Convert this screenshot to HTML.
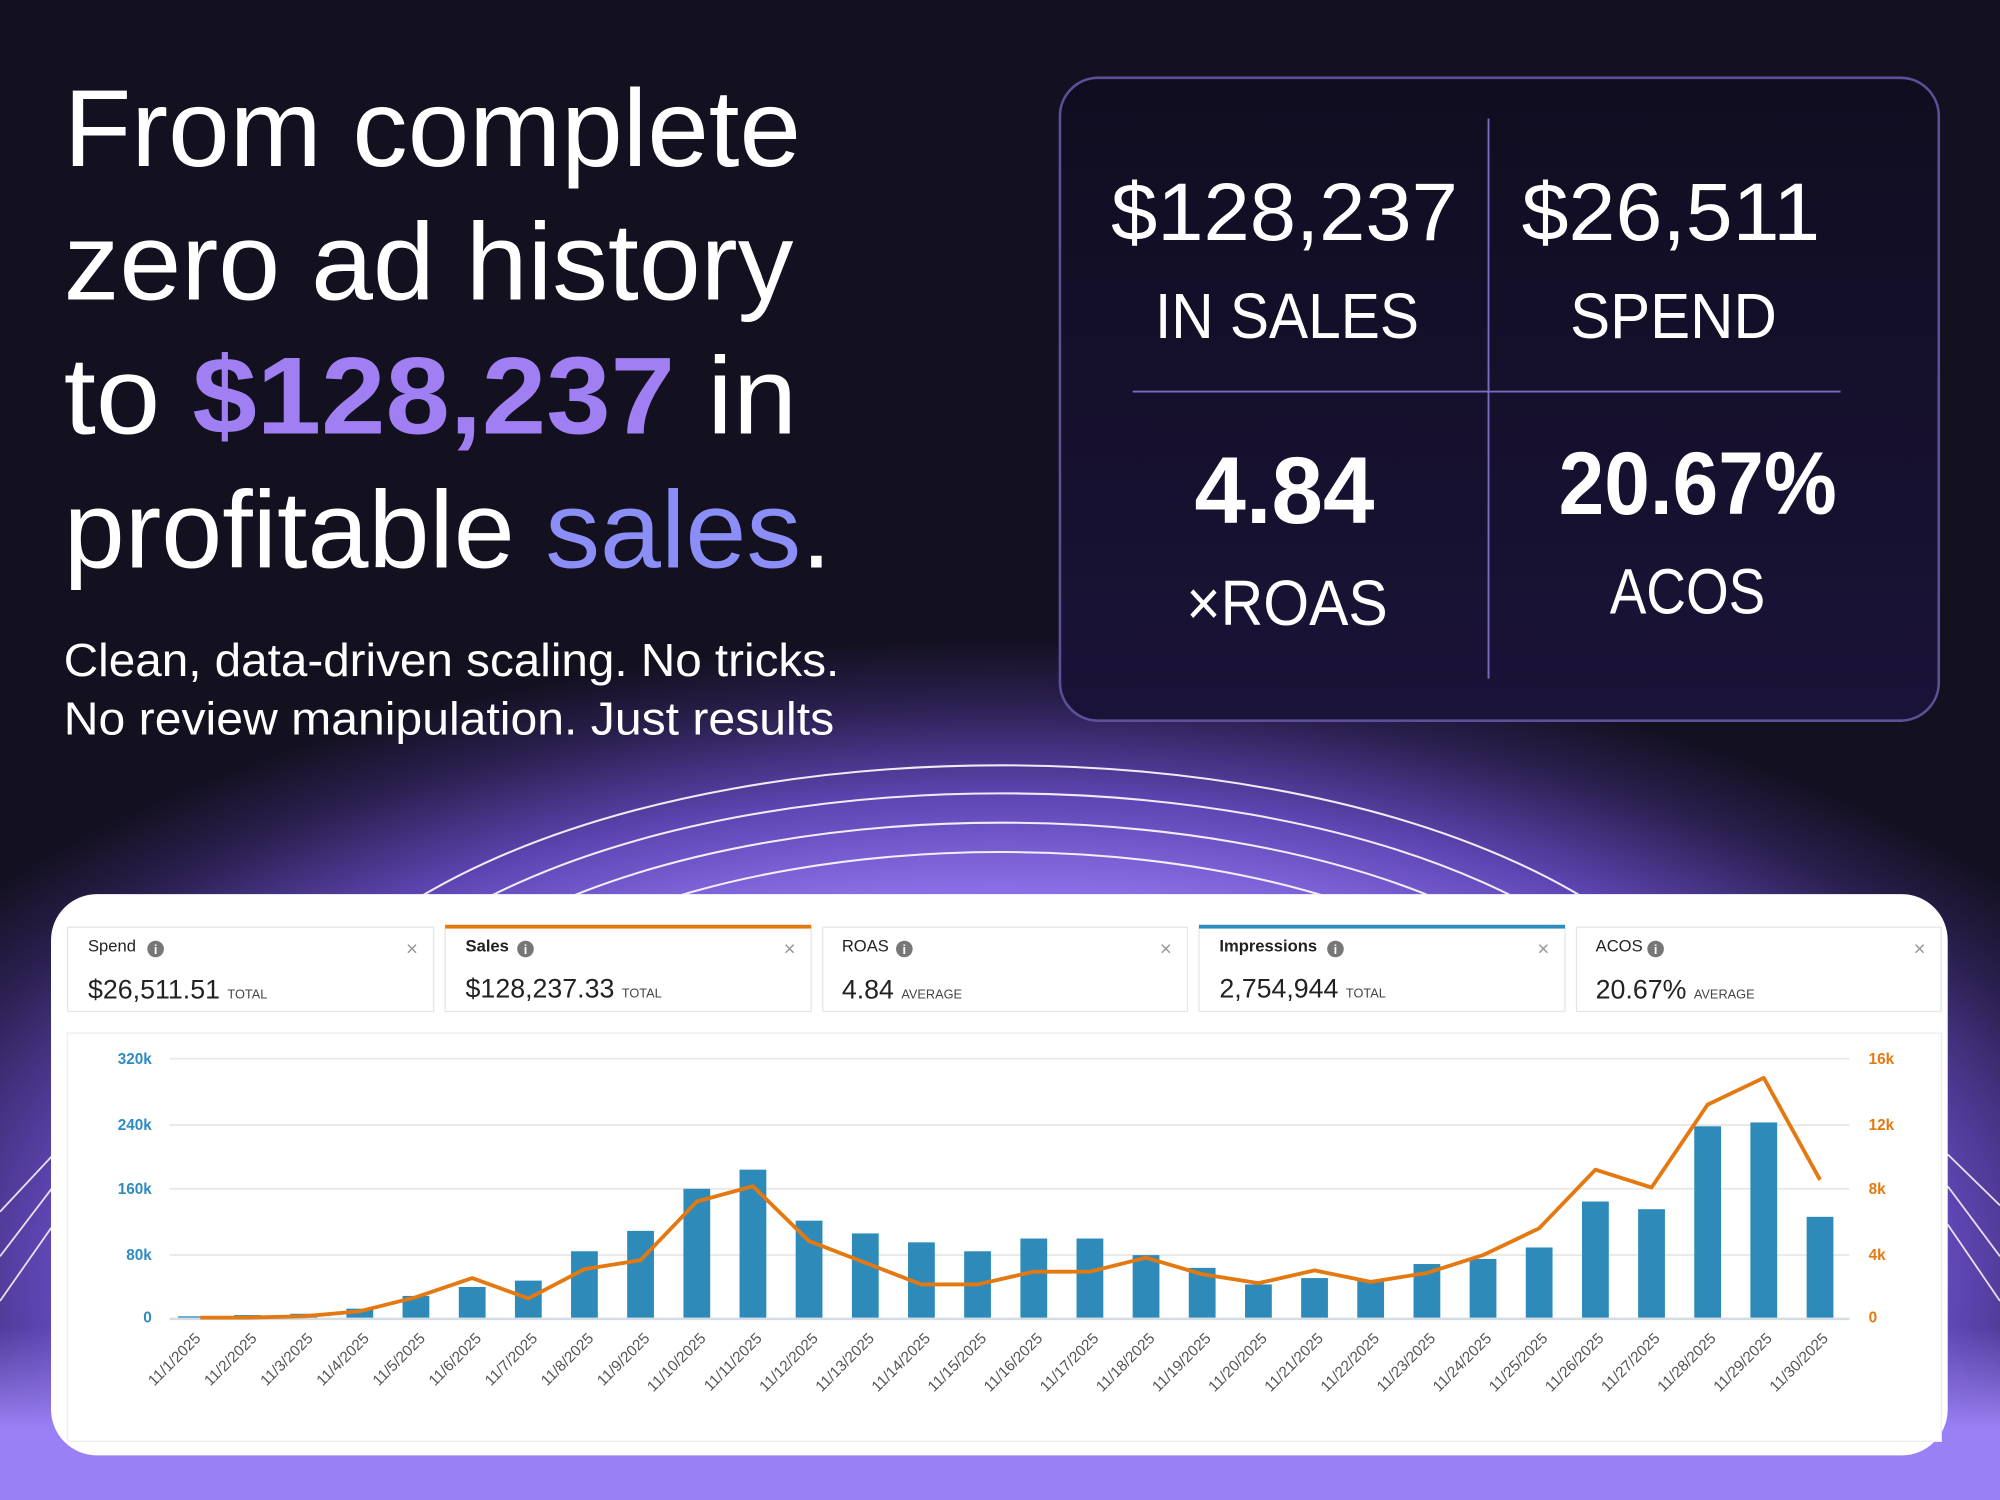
<!DOCTYPE html>
<html><head><meta charset="utf-8"><style>
html,body{margin:0;padding:0;background:#12101e;}
svg{display:block}
</style></head><body>
<svg width="2000" height="1500" viewBox="0 0 1568 1176" xmlns="http://www.w3.org/2000/svg" font-family="Liberation Sans, sans-serif">
<defs>
<radialGradient id="glow" cx="785" cy="1000" r="1000" gradientUnits="userSpaceOnUse" gradientTransform="translate(785 1000) scale(1 0.5) translate(-785 -1000)">
<stop offset="0" stop-color="#a085fb"/>
<stop offset="0.55" stop-color="#9a7ef8"/>
<stop offset="0.75" stop-color="#5e46b4"/>
<stop offset="0.9" stop-color="#2a1f4e"/>
<stop offset="1" stop-color="#13101f"/>
</radialGradient>
<linearGradient id="bot" x1="0" y1="1040" x2="0" y2="1120" gradientUnits="userSpaceOnUse">
<stop offset="0" stop-color="#9a80f5" stop-opacity="0"/>
<stop offset="1" stop-color="#9a80f5"/>
</linearGradient>
<linearGradient id="box" x1="0" y1="60" x2="0" y2="565" gradientUnits="userSpaceOnUse">
<stop offset="0" stop-color="#100d20"/>
<stop offset="1" stop-color="#1a1338"/>
</linearGradient>
<clipPath id="arcclip"><rect x="0" y="0" width="1568" height="701"/></clipPath>
<clipPath id="sideclip"><rect x="0" y="850" width="1568" height="200"/></clipPath>
</defs>
<rect width="1568" height="1176" fill="#13101f"/>
<rect width="1568" height="1176" fill="url(#glow)"/>
<rect y="1040" width="1568" height="136" fill="url(#bot)"/>
<!-- arcs -->
<g clip-path="url(#arcclip)" fill="none" stroke="#ffffff" stroke-width="1.6" opacity="0.9">
<ellipse cx="785" cy="860" rx="571" ry="260"/>
<ellipse cx="785" cy="860" rx="534" ry="238"/>
<ellipse cx="785" cy="860" rx="494" ry="215"/>
<ellipse cx="785" cy="860" rx="443" ry="192"/>
</g>
<g clip-path="url(#sideclip)" stroke="#ffffff" stroke-width="1.4" opacity="0.85">
<line x1="0" y1="950" x2="42" y2="905"/><line x1="0" y1="985" x2="42" y2="930"/><line x1="0" y1="1020" x2="42" y2="960"/>
<line x1="1527" y1="905" x2="1568" y2="945"/><line x1="1527" y1="930" x2="1568" y2="985"/><line x1="1527" y1="960" x2="1568" y2="1020"/>
</g>
<!-- headline -->
<g fill="#ffffff" font-size="86">
<text x="50" y="130" textLength="578" lengthAdjust="spacingAndGlyphs">From complete</text>
<text x="50" y="235" textLength="572" lengthAdjust="spacingAndGlyphs">zero ad history</text>
<text x="50" y="340" textLength="575" lengthAdjust="spacingAndGlyphs">to <tspan fill="#a07ff3" font-weight="bold">$128,237</tspan> in</text>
<text x="50" y="445" textLength="602" lengthAdjust="spacingAndGlyphs">profitable <tspan fill="#8a8ef6">sales</tspan>.</text>
</g>
<g fill="#ffffff" font-size="36">
<text x="50" y="530" textLength="608" lengthAdjust="spacingAndGlyphs">Clean, data-driven scaling. No tricks.</text>
<text x="50" y="576" textLength="604" lengthAdjust="spacingAndGlyphs">No review manipulation. Just results</text>
</g>
<!-- stats box -->
<rect x="831" y="61" width="689" height="504" rx="30" fill="url(#box)" stroke="#5f4f99" stroke-width="2"/>
<line x1="1167" y1="93" x2="1167" y2="532" stroke="#7a6ac0" stroke-width="1.5"/>
<line x1="888" y1="307" x2="1443" y2="307" stroke="#7a6ac0" stroke-width="1.5"/>
<g fill="#ffffff" text-anchor="middle">
<text x="1007" y="188" font-size="64" textLength="272" lengthAdjust="spacingAndGlyphs">$128,237</text>
<text x="1310" y="188" font-size="64" textLength="234" lengthAdjust="spacingAndGlyphs">$26,511</text>
<text x="1009" y="265" font-size="50" textLength="207" lengthAdjust="spacingAndGlyphs">IN SALES</text>
<text x="1312" y="265" font-size="50" textLength="162" lengthAdjust="spacingAndGlyphs">SPEND</text>
<text x="1007" y="410" font-size="74" font-weight="bold" textLength="141" lengthAdjust="spacingAndGlyphs">4.84</text>
<text x="1331" y="403" font-size="70" font-weight="bold" textLength="218" lengthAdjust="spacingAndGlyphs">20.67%</text>
<text x="1009" y="490" font-size="50" textLength="158" lengthAdjust="spacingAndGlyphs">×ROAS</text>
<text x="1323" y="481" font-size="50" textLength="122" lengthAdjust="spacingAndGlyphs">ACOS</text>
</g>
<!-- card -->
<rect x="40" y="701" width="1487" height="440" rx="36" fill="#ffffff"/>
<g font-family="Liberation Sans, sans-serif">
<g stroke="#e6e6e6" fill="#ffffff">
<rect x="53" y="727" width="287" height="66"/>
<rect x="349" y="727" width="287" height="66"/>
<rect x="645" y="727" width="286" height="66"/>
<rect x="940" y="727" width="287" height="66"/>
<rect x="1236" y="727" width="286" height="66"/>
</g>
<rect x="349" y="725" width="287" height="3" fill="#e47911"/>
<rect x="940" y="725" width="287" height="3" fill="#2e8bc0"/>
<g font-size="13" fill="#222">
<text x="69" y="746">Spend</text><text x="365" y="746" font-weight="bold">Sales</text><text x="660" y="746">ROAS</text><text x="956" y="746" font-weight="bold">Impressions</text><text x="1251" y="746">ACOS</text>
</g>
<g fill="#777">
<circle cx="122" cy="744" r="6.5"/><circle cx="412" cy="744" r="6.5"/><circle cx="709" cy="744" r="6.5"/><circle cx="1047" cy="744" r="6.5"/><circle cx="1298" cy="744" r="6.5"/>
</g>
<g fill="#fff" font-size="10" font-weight="bold" text-anchor="middle">
<text x="122" y="748">i</text><text x="412" y="748">i</text><text x="709" y="748">i</text><text x="1047" y="748">i</text><text x="1298" y="748">i</text>
</g>
<g fill="#999" font-size="16" text-anchor="middle">
<text x="323" y="749">×</text><text x="619" y="749">×</text><text x="914" y="749">×</text><text x="1210" y="749">×</text><text x="1505" y="749">×</text>
</g>
<g fill="#222" font-size="21">
<text x="69" y="783">$26,511.51 <tspan font-size="10" fill="#444">TOTAL</tspan></text>
<text x="365" y="782">$128,237.33 <tspan font-size="10" fill="#444">TOTAL</tspan></text>
<text x="660" y="783">4.84 <tspan font-size="10" fill="#444">AVERAGE</tspan></text>
<text x="956" y="782">2,754,944 <tspan font-size="10" fill="#444">TOTAL</tspan></text>
<text x="1251" y="783">20.67% <tspan font-size="10" fill="#444">AVERAGE</tspan></text>
</g>
<rect x="53" y="810" width="1469" height="320" fill="#fff" stroke="#eeeeee"/>
<!-- grid -->
<g stroke="#e9e9e9" stroke-width="1.5">
<line x1="133" y1="830" x2="1450" y2="830"/><line x1="133" y1="882" x2="1450" y2="882"/><line x1="133" y1="932" x2="1450" y2="932"/><line x1="133" y1="984" x2="1450" y2="984"/>
</g>
<line x1="133" y1="1034" x2="1450" y2="1034" stroke="#d5dde4" stroke-width="2"/>
<g fill="#2e8bc0" font-size="12" font-weight="bold" text-anchor="end">
<text x="119" y="834">320k</text><text x="119" y="886">240k</text><text x="119" y="936">160k</text><text x="119" y="988">80k</text><text x="119" y="1037">0</text>
</g>
<g fill="#e47911" font-size="12" font-weight="bold">
<text x="1465" y="834">16k</text><text x="1465" y="886">12k</text><text x="1465" y="936">8k</text><text x="1465" y="988">4k</text><text x="1465" y="1037">0</text>
</g>
<!-- bars -->
<g fill="#2e8bb9">
<rect x="139.5" y="1032" width="21" height="1"/>
<rect x="183.5" y="1031" width="21" height="2"/>
<rect x="227.6" y="1030" width="21" height="3"/>
<rect x="271.6" y="1026" width="21" height="7"/>
<rect x="315.6" y="1016" width="21" height="17"/>
<rect x="359.7" y="1009" width="21" height="24"/>
<rect x="403.7" y="1004" width="21" height="29"/>
<rect x="447.7" y="981" width="21" height="52"/>
<rect x="491.7" y="965" width="21" height="68"/>
<rect x="535.8" y="932" width="21" height="101"/>
<rect x="579.8" y="917" width="21" height="116"/>
<rect x="623.8" y="957" width="21" height="76"/>
<rect x="667.9" y="967" width="21" height="66"/>
<rect x="711.9" y="974" width="21" height="59"/>
<rect x="755.9" y="981" width="21" height="52"/>
<rect x="800" y="971" width="21" height="62"/>
<rect x="844" y="971" width="21" height="62"/>
<rect x="888" y="984" width="21" height="49"/>
<rect x="932" y="994" width="21" height="39"/>
<rect x="976.1" y="1007" width="21" height="26"/>
<rect x="1020.1" y="1002" width="21" height="31"/>
<rect x="1064.1" y="1004" width="21" height="29"/>
<rect x="1108.2" y="991" width="21" height="42"/>
<rect x="1152.2" y="987" width="21" height="46"/>
<rect x="1196.2" y="978" width="21" height="55"/>
<rect x="1240.3" y="942" width="21" height="91"/>
<rect x="1284.3" y="948" width="21" height="85"/>
<rect x="1328.3" y="883" width="21" height="150"/>
<rect x="1372.3" y="880" width="21" height="153"/>
<rect x="1416.4" y="954" width="21" height="79"/>
</g>
<polyline fill="none" stroke="#e47911" stroke-width="3" stroke-linejoin="round" points="157,1033 194,1033 238.1,1032 282.1,1028 326.1,1017 370.2,1002 414.2,1018 458.2,995 502.2,988 546.3,942 590.3,930 634.3,973 678.4,990 722.4,1007 766.4,1007 810.5,997 854.5,997 898.5,986 942.5,999 986.6,1006 1030.6,996 1074.6,1005 1118.7,998 1162.7,984 1206.7,963 1250.8,917 1294.8,931 1338.8,866 1382.8,845 1426.9,925"/>
<g fill="#555" font-size="12" text-anchor="end">
<text transform="translate(158,1050) rotate(-45)">11/1/2025</text>
<text transform="translate(202,1050) rotate(-45)">11/2/2025</text>
<text transform="translate(246,1050) rotate(-45)">11/3/2025</text>
<text transform="translate(290,1050) rotate(-45)">11/4/2025</text>
<text transform="translate(334,1050) rotate(-45)">11/5/2025</text>
<text transform="translate(378,1050) rotate(-45)">11/6/2025</text>
<text transform="translate(422,1050) rotate(-45)">11/7/2025</text>
<text transform="translate(466,1050) rotate(-45)">11/8/2025</text>
<text transform="translate(510,1050) rotate(-45)">11/9/2025</text>
<text transform="translate(554,1050) rotate(-45)">11/10/2025</text>
<text transform="translate(598,1050) rotate(-45)">11/11/2025</text>
<text transform="translate(642,1050) rotate(-45)">11/12/2025</text>
<text transform="translate(686,1050) rotate(-45)">11/13/2025</text>
<text transform="translate(730,1050) rotate(-45)">11/14/2025</text>
<text transform="translate(774,1050) rotate(-45)">11/15/2025</text>
<text transform="translate(818,1050) rotate(-45)">11/16/2025</text>
<text transform="translate(862,1050) rotate(-45)">11/17/2025</text>
<text transform="translate(906,1050) rotate(-45)">11/18/2025</text>
<text transform="translate(950,1050) rotate(-45)">11/19/2025</text>
<text transform="translate(994,1050) rotate(-45)">11/20/2025</text>
<text transform="translate(1038,1050) rotate(-45)">11/21/2025</text>
<text transform="translate(1082,1050) rotate(-45)">11/22/2025</text>
<text transform="translate(1126,1050) rotate(-45)">11/23/2025</text>
<text transform="translate(1170,1050) rotate(-45)">11/24/2025</text>
<text transform="translate(1214,1050) rotate(-45)">11/25/2025</text>
<text transform="translate(1258,1050) rotate(-45)">11/26/2025</text>
<text transform="translate(1302,1050) rotate(-45)">11/27/2025</text>
<text transform="translate(1346,1050) rotate(-45)">11/28/2025</text>
<text transform="translate(1390,1050) rotate(-45)">11/29/2025</text>
<text transform="translate(1434,1050) rotate(-45)">11/30/2025</text>
</g>
</g>
</svg>
</body></html>
